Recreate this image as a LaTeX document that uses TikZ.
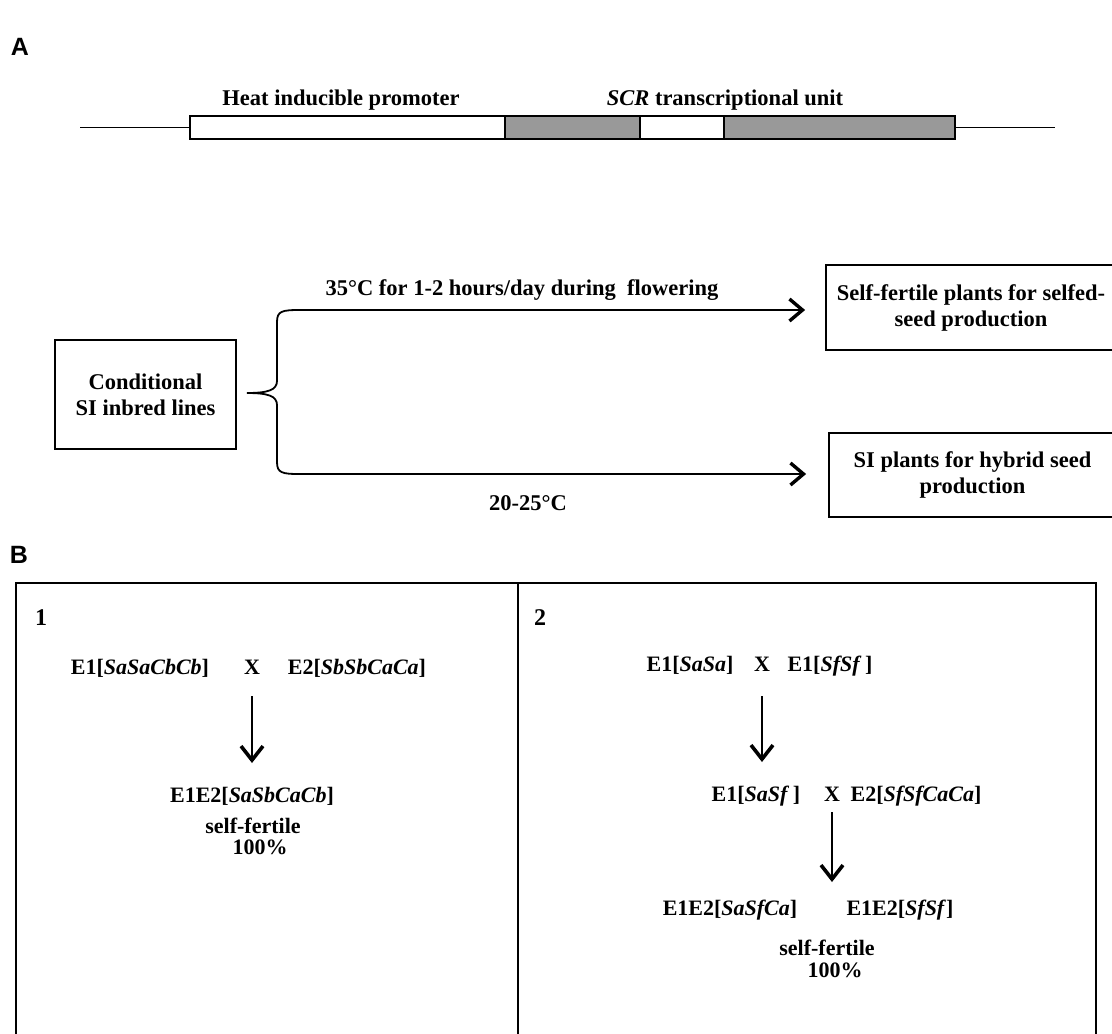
\documentclass[tikz,border=0pt]{standalone}
\usepackage{fontspec}
\setmainfont{Liberation Serif}
\setsansfont{Liberation Sans}
\usetikzlibrary{arrows.meta}
\begin{document}
\begin{tikzpicture}[x=1pt,y=-1pt,
  lbl/.style={font=\fontsize{22.5}{26}\selectfont\bfseries, inner sep=0pt},
  blbl/.style={font=\fontsize{22}{24}\selectfont\bfseries, inner sep=0pt, text height=15pt, text depth=5pt},
  panel/.style={font=\fontsize{25}{28}\selectfont\sffamily\bfseries, inner sep=0pt},
  num/.style={font=\fontsize{24}{28}\selectfont\bfseries, inner sep=0pt},
  boxA/.style={draw, line width=1.8pt, align=center, inner sep=0pt, font=\fontsize{22.5}{26}\selectfont\bfseries},
  seg/.style={draw, line width=1.6pt, inner sep=0pt, minimum height=23pt},
  shade/.style={seg, fill=black!40},
  thin/.style={line width=1.5pt},
  arr/.style={line width=1.8pt, -{Straight Barb[length=13pt,width=22pt,line width=3.4pt]}},
  varr/.style={line width=1.8pt, -{Straight Barb[length=14pt,width=22pt,line width=3.6pt]}},
]
\clip (0,0) rectangle (1112,1034);
\fill[white] (0,0) rectangle (1112,1034);

% panel labels
\node[panel] (pA) at (20,47) {A};
\node[panel] (pB) at (19,555) {B};

% construct
\node[seg, minimum width=315pt] (prom) at (347.5,127.5) {};
\node[shade, minimum width=135pt] (ex1) at (572.5,127.5) {};
\node[seg, minimum width=84pt] (intr) at (682,127.5) {};
\node[shade, minimum width=231pt] (ex2) at (839.5,127.5) {};
\coordinate (lineL) at (80,127.5);
\coordinate (lineR) at (1055,127.5);
\draw[thin] (lineL) -- (prom.west);
\draw[thin] (ex2.east) -- (lineR);
\node[lbl] (promlbl) at (341,100) {Heat inducible promoter};
\node[lbl] (scrlbl) at (725,100) {\textit{SCR} transcriptional unit};

% flow
\node[boxA, minimum width=181pt, minimum height=109pt] (cond) at (145.5,394.5) {Conditional\\SI inbred lines};
\node[boxA, minimum width=290pt, minimum height=85pt] (selfbox) at (971,307.5) {Self-fertile plants for selfed-\\seed production};
\node[boxA, minimum width=287pt, minimum height=84pt] (sibox) at (972.5,475) {SI plants for hybrid seed\\production};

\coordinate (tip) at (247,393);
\coordinate (bt) at (300,310);
\coordinate (bb) at (300,474);
\draw[line width=1.8pt] (bt) .. controls (282,310) and (277,311) .. (277,322)
  -- (277,381) .. controls (277,390) and (268,393) .. (tip)
  .. controls (268,393) and (277,396) .. (277,405)
  -- (277,462) .. controls (277,473) and (282,474) .. (bb);
\draw[arr, shorten >=20pt] (bt) -- (bt -| selfbox.west);
\draw[arr, shorten >=22pt] (bb) -- (bb -| sibox.west);
\node[lbl] (toplbl) at (522,290) {35°C for 1-2 hours/day during\ \ flowering};
\node[lbl] (botlbl) at (528,503) {20-25°C};

% panel B frame
\draw[line width=1.8pt] (16,1040) -- (16,583) -- (1096,583) -- (1096,1040);
\draw[line width=1.8pt] (518,583) -- (518,1040);

% B1
\node[num] (n1) at (41,618) {1};
\node[blbl] (a1) at (140,669) {E1[\textit{SaSaCbCb}]};
\node[blbl] (x1) at (252,669) {X};
\node[blbl] (a2) at (357,669) {E2[\textit{SbSbCaCa}]};
\node[blbl] (f1) at (252,797) {E1E2[\textit{SaSbCaCb}]};
\node[blbl] (sf1) at (253,828) {self-fertile};
\node[blbl] (pc1) at (260,849) {100\%};
\draw[varr, shorten <=27pt, shorten >=34pt] (x1.center) -- (f1.center);

% B2
\node[num] (n2) at (540,618) {2};
\node[blbl] (b1) at (690,666) {E1[\textit{SaSa}]};
\node[blbl] (x2) at (762,666) {X};
\node[blbl] (b2) at (830,666) {E1[\textit{SfSf}\,]};
\node[blbl] (c1) at (756,796) {E1[\textit{SaSf}\,]};
\node[blbl] (x3) at (832,796) {X};
\node[blbl] (c2) at (916,796) {E2[\textit{SfSfCaCa}]};
\draw[varr, shorten <=30pt, shorten >=34pt] (x2.center) -- (x2.center |- c1.center);
\node[blbl] (d1) at (730,910) {E1E2[\textit{SaSfCa}]};
\node[blbl] (d2) at (900,910) {E1E2[\textit{SfSf}]};
\coordinate (d0) at (832,910);
\draw[varr, shorten <=16pt, shorten >=28pt] (x3.center) -- (d0);
\node[blbl] (sf2) at (827,950) {self-fertile};
\node[blbl] (pc2) at (835,972) {100\%};
\end{tikzpicture}
\end{document}
